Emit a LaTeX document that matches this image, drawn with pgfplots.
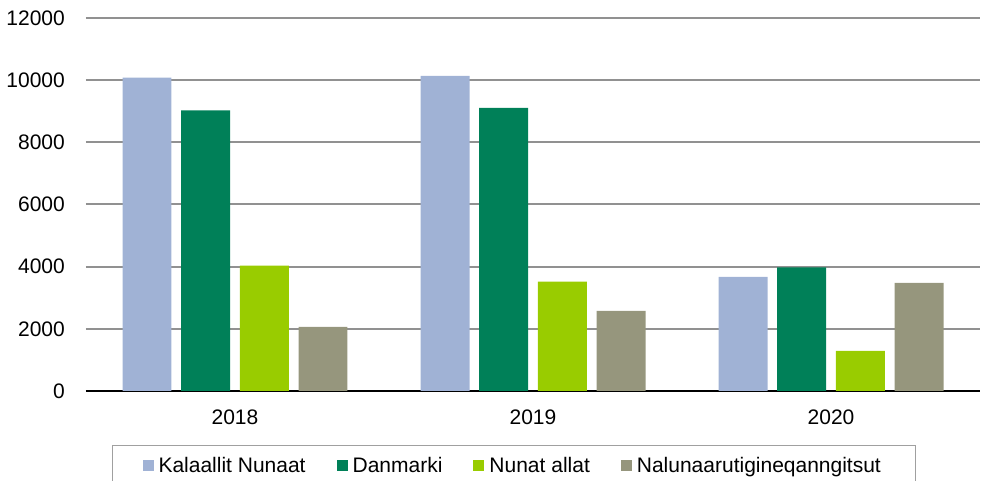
\documentclass[border=0pt]{standalone}
\usepackage{pgfplots}
\pgfplotsset{compat=1.18}
\usepackage{fontspec}
\setmainfont{Liberation Sans}
\definecolor{cKN}{RGB}{160,178,213}
\definecolor{cDK}{RGB}{0,128,88}
\definecolor{cNA}{RGB}{153,204,0}
\definecolor{cNal}{RGB}{150,150,125}
\definecolor{gridc}{RGB}{145,145,145}
\begin{document}
\begin{tikzpicture}
\useasboundingbox (-86pt,-90pt) rectangle (901pt,391pt);
\begin{axis}[
  at={(0pt,0pt)}, anchor=south west,
  scale only axis, width=894pt, height=373pt,
  font=\fontsize{21}{25}\selectfont,
  /pgf/number format/assume math mode=true,
  /pgf/number format/1000 sep={},
  scaled y ticks=false,
  xmin=-0.5, xmax=2.5, ymin=0, ymax=12000,
  xtick={0,1,2}, xticklabels={2018,2019,2020},
  ytick={0,2000,...,12000},
  major tick length=0pt,
  axis x line*=bottom, axis y line*=left,
  y axis line style={draw=none},
  x axis line style={black, line width=2.5pt},
  ymajorgrids, grid style={gridc, line width=2pt},
  yticklabel style={anchor=east, inner sep=0pt, xshift=-21pt},
  xticklabel style={anchor=north, inner sep=0pt, yshift=-19pt},
  ybar, bar width=0.1644,
  legend columns=4,
  legend style={at={(0.029,-0.1448)}, anchor=north west, draw={rgb,255:red,160;green,160;blue,160}, line width=1.2pt,
    font=\fontsize{21}{25}\selectfont, inner xsep=30pt, inner ysep=10pt,
    nodes={inner xsep=5pt},
    /tikz/every even column/.append style={column sep=26pt}},
  legend image code/.code={\fill[#1] (0pt,-5.5pt) rectangle (11pt,5.5pt);},
  legend cell align=left,
]
\addplot[fill=cKN, draw=none, bar shift=-0.2953] coordinates {(0,10080) (1,10140) (2,3670)};
\addplot[fill=cDK, draw=none, bar shift=-0.0983] coordinates {(0,9030) (1,9110) (2,3980)};
\addplot[fill=cNA, draw=none, bar shift=0.0983] coordinates {(0,4030) (1,3520) (2,1290)};
\addplot[fill=cNal, draw=none, bar shift=0.2953] coordinates {(0,2060) (1,2580) (2,3480)};
\legend{Kalaallit Nunaat, Danmarki, Nunat allat, Nalunaarutigineqanngitsut}
\end{axis}
\end{tikzpicture}
\end{document}
